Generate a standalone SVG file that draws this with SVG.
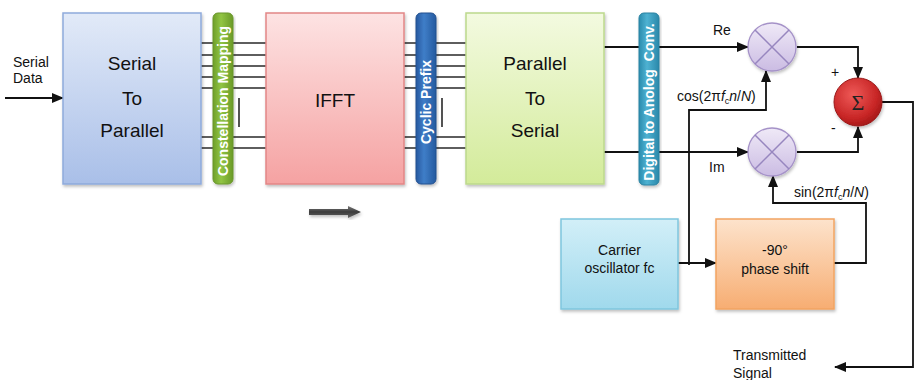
<svg xmlns="http://www.w3.org/2000/svg" width="915" height="380" viewBox="0 0 915 380">
<defs>
<linearGradient id="gBlue" x1="0" y1="0" x2="0" y2="1"><stop offset="0" stop-color="#e2eaf8"/><stop offset="1" stop-color="#a9bfe8"/></linearGradient>
<linearGradient id="gPink" x1="0" y1="0" x2="0" y2="1"><stop offset="0" stop-color="#fde3e3"/><stop offset="1" stop-color="#f5a2a2"/></linearGradient>
<linearGradient id="gLime" x1="0" y1="0" x2="0" y2="1"><stop offset="0" stop-color="#f3fae0"/><stop offset="1" stop-color="#d3eb9a"/></linearGradient>
<linearGradient id="gCyan" x1="0" y1="0" x2="0" y2="1"><stop offset="0" stop-color="#d2eff8"/><stop offset="1" stop-color="#a0d9ec"/></linearGradient>
<linearGradient id="gOrange" x1="0" y1="0" x2="0" y2="1"><stop offset="0" stop-color="#fde3cc"/><stop offset="1" stop-color="#f7ad72"/></linearGradient>
<linearGradient id="gGreenBar" x1="0" y1="0" x2="1" y2="0"><stop offset="0" stop-color="#6e9f2a"/><stop offset="0.4" stop-color="#92c544"/><stop offset="1" stop-color="#6a9a28"/></linearGradient>
<linearGradient id="gBlueBar" x1="0" y1="0" x2="1" y2="0"><stop offset="0" stop-color="#2659a0"/><stop offset="0.4" stop-color="#3f7ec8"/><stop offset="1" stop-color="#255a9f"/></linearGradient>
<linearGradient id="gTealBar" x1="0" y1="0" x2="1" y2="0"><stop offset="0" stop-color="#2a8cae"/><stop offset="0.4" stop-color="#4fb2d2"/><stop offset="1" stop-color="#2a88aa"/></linearGradient>
<linearGradient id="gMult" x1="0" y1="0" x2="0" y2="1"><stop offset="0" stop-color="#efe9f7"/><stop offset="1" stop-color="#cbbce3"/></linearGradient>
<radialGradient id="gSum" cx="0.4" cy="0.35" r="0.7"><stop offset="0" stop-color="#ef5a58"/><stop offset="0.7" stop-color="#c82626"/><stop offset="1" stop-color="#a01616"/></radialGradient>
<linearGradient id="gArrow" x1="0" y1="0" x2="0" y2="1"><stop offset="0" stop-color="#777"/><stop offset="0.5" stop-color="#3c3c3c"/><stop offset="1" stop-color="#666"/></linearGradient>
<filter id="sh" x="-10%" y="-10%" width="125%" height="125%"><feDropShadow dx="1" dy="2" stdDeviation="1.5" flood-color="#000" flood-opacity="0.25"/></filter>
<marker id="ah" markerUnits="userSpaceOnUse" markerWidth="12" markerHeight="12" viewBox="0 0 12 12" refX="11" refY="6" orient="auto"><path d="M0,1 L12,6 L0,11 Z" fill="#111"/></marker>
<style>
.box{stroke-width:1.5}
.lbl{font-family:"Liberation Sans",Arial,sans-serif;font-size:19px;fill:#111;text-anchor:middle}
.sm{font-family:"Liberation Sans",Arial,sans-serif;font-size:14px;fill:#111}
.mid{text-anchor:middle}
.vt{font-family:"Liberation Sans",Arial,sans-serif;font-size:14px;font-weight:bold;fill:#fff;text-anchor:middle}
.bus{stroke:#2a2a2a;stroke-width:1.6;fill:none}
.wire{stroke:#111;stroke-width:1.8;fill:none}
.arr{marker-end:url(#ah)}
.mult{fill:url(#gMult);stroke:#a592c8;stroke-width:1.3}
.x{stroke:#9786bf;stroke-width:1.5}
</style>
</defs>

<g id="buses">
<path class="bus" d="M201,43H266M201,55H266M201,66H266M201,77H266M201,88H266M201,137H266M201,148H266"/>
<path class="bus" d="M404,43H466M404,55H466M404,66H466M404,77H466M404,88H466M404,137H466M404,148H466"/>
<path class="bus" d="M239,98V127M442,98V127"/>
</g>

<g id="connectors">
<path class="wire arr" d="M5,98H63"/>
<path class="wire arr" d="M604,47H748"/>
<path class="wire arr" d="M604,152H748"/>
<path class="wire arr" d="M797,47H858V78"/>
<path class="wire arr" d="M797,152H858V127"/>
<path class="wire arr" d="M882,102H913V367H835"/>
<path class="wire arr" d="M689,265V110H766V71"/>
<path class="wire arr" d="M678,263H716"/>
<path class="wire arr" d="M834,263H866V203H773V176"/>
</g>

<g id="serial-data">
<text class="sm" x="13" y="67">Serial</text>
<text class="sm" x="13" y="83">Data</text>
</g>

<g id="sp">
<rect class="box" x="63" y="13" width="138" height="171" fill="url(#gBlue)" stroke="#8eaadb" filter="url(#sh)"/>
<text class="lbl" x="132" y="70">Serial</text>
<text class="lbl" x="132" y="105">To</text>
<text class="lbl" x="132" y="137">Parallel</text>
</g>

<g id="constellation">
<rect x="213" y="13" width="20" height="171" rx="5" fill="url(#gGreenBar)" stroke="#6a962c" filter="url(#sh)"/>
<text class="vt" transform="translate(228,101) rotate(-90)">Constellation Mapping</text>
</g>

<g id="ifft">
<rect class="box" x="266" y="13" width="138" height="171" fill="url(#gPink)" stroke="#e28686" filter="url(#sh)"/>
<text class="lbl" x="335" y="107">IFFT</text>
</g>

<g id="cyclic">
<rect x="416" y="13" width="20" height="171" rx="5" fill="url(#gBlueBar)" stroke="#22508f" filter="url(#sh)"/>
<text class="vt" transform="translate(431,102) rotate(-90)">Cyclic Prefix</text>
</g>

<g id="ps">
<rect class="box" x="466" y="13" width="138" height="171" fill="url(#gLime)" stroke="#bcd98c" filter="url(#sh)"/>
<text class="lbl" x="535" y="70">Parallel</text>
<text class="lbl" x="535" y="105">To</text>
<text class="lbl" x="535" y="137">Serial</text>
</g>

<g id="dac">
<rect x="639" y="13" width="20" height="172" rx="5" fill="url(#gTealBar)" stroke="#2a82a2" filter="url(#sh)"/>
<text class="vt" transform="translate(654,102) rotate(-90)">Digital to Anolog<tspan dx="8">Conv.</tspan></text>
</g>

<g id="flow-arrow">
<path d="M309,209H348V206L361,212L348,218V215H309Z" fill="url(#gArrow)" filter="url(#sh)"/>
</g>

<g id="mult1">
<circle class="mult" cx="772" cy="47" r="24" filter="url(#sh)"/>
<path class="x" d="M755,30L789,64M789,30L755,64"/>
</g>

<g id="mult2">
<circle class="mult" cx="772" cy="152" r="24" filter="url(#sh)"/>
<path class="x" d="M755,135L789,169M789,135L755,169"/>
</g>

<g id="sum">
<circle cx="858" cy="102" r="24" fill="url(#gSum)" stroke="#9a1a1a" stroke-width="1" filter="url(#sh)"/>
<text x="858" y="110" font-family="'Liberation Serif',serif" font-size="22" fill="#222" text-anchor="middle">Σ</text>
</g>

<g id="labels">
<text class="sm" x="713" y="35">Re</text>
<text class="sm" x="709" y="172">Im</text>
<text class="sm" x="831" y="77">+</text>
<text class="sm" x="831" y="133">-</text>
<text class="sm" x="677" y="101">cos(2π<tspan font-style="italic">f</tspan><tspan font-size="9" dy="3">c</tspan><tspan font-style="italic" dy="-3">n</tspan>/<tspan font-style="italic">N</tspan>)</text>
<text class="sm" x="794" y="197">sin(2π<tspan font-style="italic">f</tspan><tspan font-size="9" dy="3">c</tspan><tspan font-style="italic" dy="-3">n</tspan>/<tspan font-style="italic">N</tspan>)</text>
<text class="sm" x="733" y="360">Transmitted</text>
<text class="sm" x="733" y="378">Signal</text>
</g>

<g id="oscillator">
<rect class="box" x="561" y="219" width="117" height="90" fill="url(#gCyan)" stroke="#7fc6de" filter="url(#sh)"/>
<text class="sm mid" x="619.5" y="255">Carrier</text>
<text class="sm mid" x="619.5" y="273">oscillator fc</text>
</g>

<g id="phase">
<rect class="box" x="716" y="219" width="118" height="90" fill="url(#gOrange)" stroke="#f2a462" filter="url(#sh)"/>
<text class="sm mid" x="775" y="255">-90°</text>
<text class="sm mid" x="775" y="274">phase shift</text>
</g>
</svg>
